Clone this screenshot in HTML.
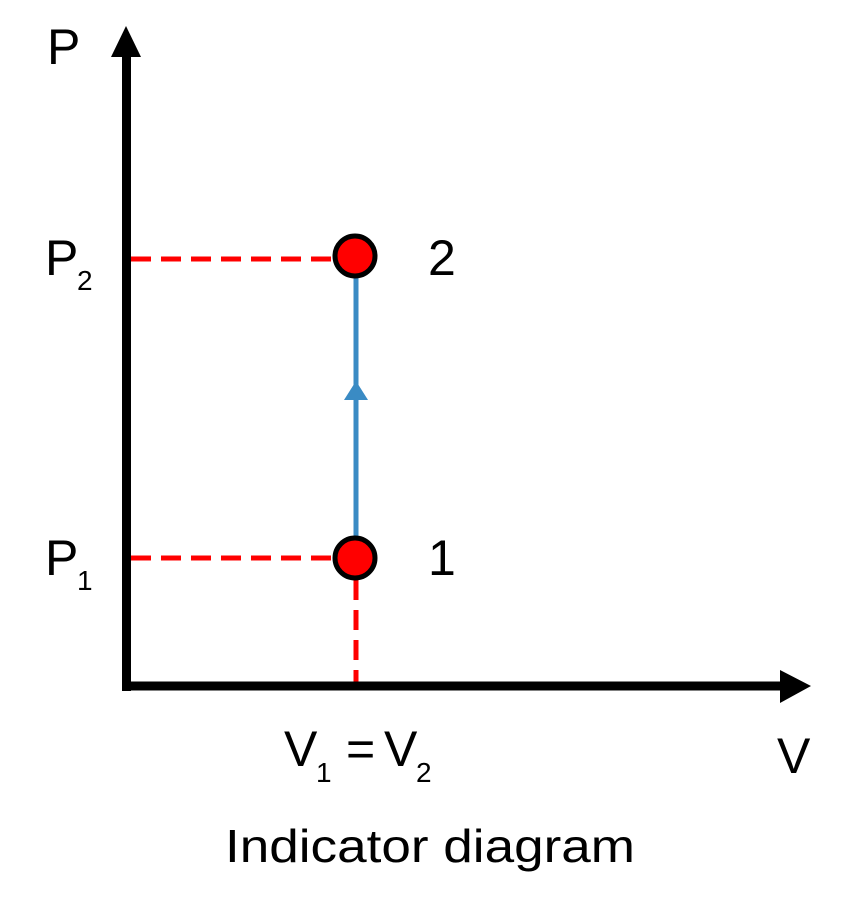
<!DOCTYPE html>
<html><head><style>body{margin:0;background:#fff}svg{display:block}text{font-family:"Liberation Sans",sans-serif;fill:#000}</style></head>
<body>
<svg width="852" height="900" viewBox="0 0 852 900">
<g stroke="#f00" stroke-width="5" stroke-dasharray="20,10" fill="none">
<line x1="131" y1="259" x2="335" y2="259"/>
<line x1="131" y1="558" x2="335" y2="558"/>
<line x1="356" y1="580" x2="356" y2="682"/>
</g>
<line x1="356" y1="278" x2="356" y2="540" stroke="#3a8bc4" stroke-width="5"/>
<polygon points="356,381 344,400 368,400" fill="#3a8bc4"/>
<line x1="126.5" y1="50" x2="126.5" y2="691" stroke="#000" stroke-width="9"/>
<polygon points="126,26 111,57 141,57" fill="#000"/>
<line x1="122" y1="686" x2="782" y2="686" stroke="#000" stroke-width="9"/>
<polygon points="811,686 780,670 780,703" fill="#000"/>
<circle cx="355" cy="256" r="20" fill="#f00" stroke="#000" stroke-width="5"/>
<circle cx="355" cy="558" r="20" fill="#f00" stroke="#000" stroke-width="5"/>
<text x="47" y="64" font-size="50">P</text>
<text x="45" y="275" font-size="50">P</text><text x="77" y="290" font-size="28">2</text>
<text x="45" y="575" font-size="50">P</text><text x="77" y="590" font-size="28">1</text>
<text x="428" y="275" font-size="50">2</text>
<text x="428" y="575" font-size="50">1</text>
<text x="284" y="766" font-size="50">V</text><text x="316" y="782" font-size="28">1</text>
<text x="346" y="766" font-size="50">=</text>
<text x="384" y="766" font-size="50">V</text><text x="416" y="782" font-size="28">2</text>
<text x="777" y="773" font-size="50">V</text>
<text x="225" y="862" font-size="46" textLength="410" lengthAdjust="spacingAndGlyphs">Indicator diagram</text>
</svg>
</body></html>
